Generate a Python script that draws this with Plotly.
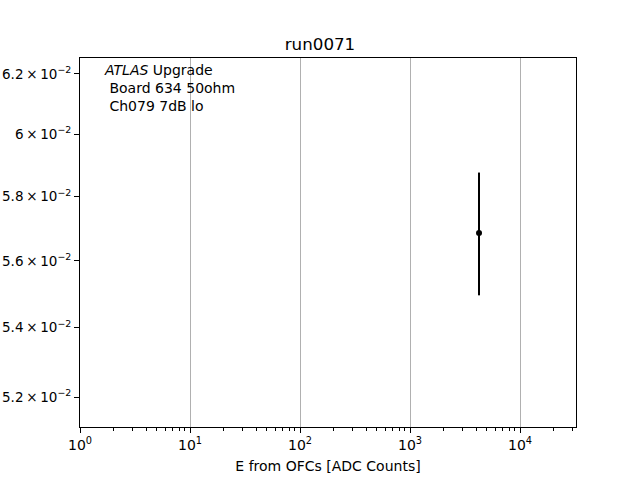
import plotly.graph_objects as go

energy = [4240]
value = [0.05686]
err = [0.0019]

xtick_vals = [1, 10, 100, 1000, 10000]
xtick_text = ["10<sup>0</sup>", "10<sup>1</sup>", "10<sup>2</sup>", "10<sup>3</sup>", "10<sup>4</sup>"]
ytick_vals = [0.052, 0.054, 0.056, 0.058, 0.06, 0.062]
ytick_text = ["5.2\u2009×\u200910<sup>−2</sup>", "5.4\u2009×\u200910<sup>−2</sup>", "5.6\u2009×\u200910<sup>−2</sup>",
              "5.8\u2009×\u200910<sup>−2</sup>", "6\u2009×\u200910<sup>−2</sup>", "6.2\u2009×\u200910<sup>−2</sup>"]
minor_x = [m * 10**d for d in range(0, 5) for m in range(2, 10) if m * 10**d < 32300]

fig = go.Figure()
fig.add_trace(go.Scatter(
    x=energy, y=value, mode="markers",
    marker=dict(color="black", size=6),
    error_y=dict(type="data", array=err, visible=True, color="black", thickness=2, width=0),
    showlegend=False,
))

font = dict(family="DejaVu Sans", size=14, color="black")
yfont = dict(family="DejaVu Sans", size=13.5, color="black")
fig.update_layout(
    width=640, height=480,
    margin=dict(l=80, r=64, t=58, b=53),
    plot_bgcolor="white", paper_bgcolor="white",
    font=font,
    title=dict(text="run0071", x=0.5, xanchor="center", y=1 - 44/480, yanchor="middle",
               font=dict(family="DejaVu Sans", size=16.7, color="black")),
    xaxis=dict(type="log", range=[0, 4.509], tickmode="array", tickvals=xtick_vals, ticktext=xtick_text,
               automargin=False,
               showgrid=True, gridcolor="#b0b0b0", gridwidth=1,
               showline=True, linecolor="black", linewidth=1, mirror=True,
               ticks="outside", ticklen=5, tickcolor="black", tickfont=font,
               minor=dict(tickmode="array", tickvals=minor_x, ticks="outside", ticklen=2.5,
                          tickcolor="black", showgrid=False),
               title=dict(text="E from OFCs [ADC Counts]", standoff=9, font=font),
               zeroline=False),
    yaxis=dict(type="log", range=[-1.29109, -1.20383], tickmode="array", tickvals=ytick_vals, ticktext=ytick_text,
               automargin=False,
               showgrid=False, showline=True, linecolor="black", linewidth=1, mirror=True,
               ticks="outside", ticklen=5, tickcolor="black", tickfont=yfont, zeroline=False),
    annotations=[dict(
        xref="paper", yref="paper", x=0.045, y=0.995, xanchor="left", yanchor="top",
        text="<i>ATLAS</i> Upgrade<br> Board 634 50ohm<br> Ch079 7dB lo",
        showarrow=False, align="left", font=font,
    )],
)

fig.write_html("out.html", config={"displayModeBar": False},
               post_script="document.body.style.margin='0';")
